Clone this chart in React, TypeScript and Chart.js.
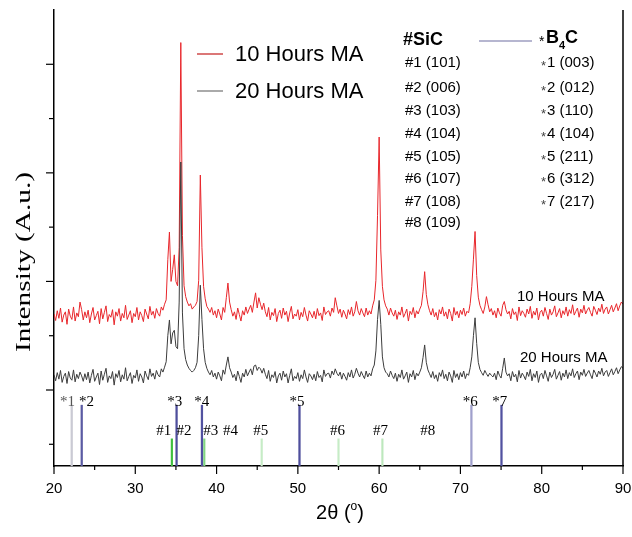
import React, { useEffect, useRef } from 'react';
import { Chart, registerables } from 'chart.js';

Chart.register(...registerables);

// 2θ sampling points (degrees)
const angles = [
  20, 20.2, 20.4, 20.6, 20.8, 21, 21.2, 21.4, 21.6, 21.8,
  22, 22.2, 22.4, 22.6, 22.8, 23, 23.2, 23.4, 23.6, 23.8,
  24, 24.2, 24.4, 24.6, 24.8, 25, 25.2, 25.4, 25.6, 25.8,
  26, 26.2, 26.4, 26.6, 26.8, 27, 27.2, 27.4, 27.6, 27.8,
  28, 28.2, 28.4, 28.6, 28.8, 29, 29.2, 29.4, 29.6, 29.8,
  30, 30.2, 30.4, 30.6, 30.8, 31, 31.2, 31.4, 31.6, 31.8,
  32, 32.2, 32.4, 32.6, 32.8, 33, 33.2, 33.4, 33.6, 33.8,
  34, 34.2, 34.4, 34.6, 34.8, 35, 35.2, 35.4, 35.6, 35.8,
  36, 36.2, 36.4, 36.6, 36.8, 37, 37.2, 37.4, 37.6, 37.8,
  38, 38.2, 38.4, 38.6, 38.8, 39, 39.2, 39.4, 39.6, 39.8,
  40, 40.2, 40.4, 40.6, 40.8, 41, 41.2, 41.4, 41.6, 41.8,
  42, 42.2, 42.4, 42.6, 42.8, 43, 43.2, 43.4, 43.6, 43.8,
  44, 44.2, 44.4, 44.6, 44.8, 45, 45.2, 45.4, 45.6, 45.8,
  46, 46.2, 46.4, 46.6, 46.8, 47, 47.2, 47.4, 47.6, 47.8,
  48, 48.2, 48.4, 48.6, 48.8, 49, 49.2, 49.4, 49.6, 49.8,
  50, 50.2, 50.4, 50.6, 50.8, 51, 51.2, 51.4, 51.6, 51.8,
  52, 52.2, 52.4, 52.6, 52.8, 53, 53.2, 53.4, 53.6, 53.8,
  54, 54.2, 54.4, 54.6, 54.8, 55, 55.2, 55.4, 55.6, 55.8,
  56, 56.2, 56.4, 56.6, 56.8, 57, 57.2, 57.4, 57.6, 57.8,
  58, 58.2, 58.4, 58.6, 58.8, 59, 59.2, 59.4, 59.6, 59.8,
  60, 60.2, 60.4, 60.6, 60.8, 61, 61.2, 61.4, 61.6, 61.8,
  62, 62.2, 62.4, 62.6, 62.8, 63, 63.2, 63.4, 63.6, 63.8,
  64, 64.2, 64.4, 64.6, 64.8, 65, 65.2, 65.4, 65.6, 65.8,
  66, 66.2, 66.4, 66.6, 66.8, 67, 67.2, 67.4, 67.6, 67.8,
  68, 68.2, 68.4, 68.6, 68.8, 69, 69.2, 69.4, 69.6, 69.8,
  70, 70.2, 70.4, 70.6, 70.8, 71, 71.2, 71.4, 71.6, 71.8,
  72, 72.2, 72.4, 72.6, 72.8, 73, 73.2, 73.4, 73.6, 73.8,
  74, 74.2, 74.4, 74.6, 74.8, 75, 75.2, 75.4, 75.6, 75.8,
  76, 76.2, 76.4, 76.6, 76.8, 77, 77.2, 77.4, 77.6, 77.8,
  78, 78.2, 78.4, 78.6, 78.8, 79, 79.2, 79.4, 79.6, 79.8,
  80, 80.2, 80.4, 80.6, 80.8, 81, 81.2, 81.4, 81.6, 81.8,
  82, 82.2, 82.4, 82.6, 82.8, 83, 83.2, 83.4, 83.6, 83.8,
  84, 84.2, 84.4, 84.6, 84.8, 85, 85.2, 85.4, 85.6, 85.8,
  86, 86.2, 86.4, 86.6, 86.8, 87, 87.2, 87.4, 87.6, 87.8,
  88, 88.2, 88.4, 88.6, 88.8, 89, 89.2, 89.4, 89.6, 89.8,
  90,
];

// 10 Hours MA pattern (a.u.)
const ma10h = [
  240, 228, 246, 232, 251, 225, 238, 244, 221, 249,
  236, 230, 253, 227, 242, 235, 262, 248, 229, 244,
  233, 247, 224, 240, 252, 229, 237, 245, 222, 250,
  231, 243, 255, 226, 239, 234, 248, 220, 244, 236,
  250, 227, 241, 233, 256, 230, 238, 246, 224, 241,
  235, 252, 229, 244, 237, 226, 249, 240, 231, 254,
  238, 245, 232, 250, 241, 236, 253, 247, 258, 266,
  340, 391, 300, 322, 349, 300, 292, 362, 740, 385,
  292, 272, 262, 255, 259, 249, 253, 256, 263, 302,
  496, 362, 291, 268, 254, 249, 243, 252, 238, 246,
  233, 249, 240, 229, 252, 243, 270, 297, 262, 248,
  236, 244, 230, 251, 239, 227, 246, 238, 253, 241,
  249, 256, 243, 262, 279, 251, 270, 258, 248, 260,
  244, 235, 252, 229, 243, 237, 250, 226, 241, 247,
  232, 251, 238, 245, 226, 242, 254, 231, 240, 236,
  248, 229, 243, 235, 252, 238, 227, 246, 240, 233,
  245, 231, 250, 237, 242, 228, 253, 239, 244, 246,
  236, 251, 243, 270, 255, 241, 249, 234, 247, 240,
  231, 248, 239, 253, 236, 244, 263, 246, 238, 250,
  242, 235, 251, 238, 246, 240, 255, 266, 302, 421,
  566, 358, 291, 266, 255, 249, 238, 251, 242, 236,
  247, 230, 244, 238, 253, 234, 241, 249, 227, 245,
  239, 252, 233, 246, 240, 249, 256, 281, 318, 276,
  257, 246, 238, 250, 235, 243, 229, 248, 240, 253,
  236, 244, 231, 249, 241, 227, 252, 238, 245, 233,
  247, 239, 251, 236, 245, 242, 259, 291, 341, 392,
  311, 271, 256, 248, 241, 253, 272, 257, 244, 250,
  238, 246, 233, 251, 242, 236, 256, 263, 248, 240,
  245, 231, 250, 239, 244, 228, 253, 237, 246, 241,
  234, 249, 240, 254, 232, 245, 238, 251, 229, 243,
  247, 236, 252, 241, 230, 249, 238, 244, 255, 235,
  242, 250, 233, 246, 239, 253, 236, 248, 241, 257,
  238, 245, 251, 234, 249, 242, 256, 240, 247, 252,
  243, 236, 254, 247, 239, 251, 244, 258, 241, 249,
  253, 240, 248, 256, 244, 251, 259, 246, 255, 262,
  258,
];

// 20 Hours MA pattern (a.u.)
const ma20h = [
  128, 117, 132, 120, 136, 114, 125, 131, 112, 134,
  122, 118, 137, 115, 129, 121, 133, 126, 116, 130,
  119, 133, 113, 127, 138, 116, 124, 131, 110, 135,
  118, 129, 140, 114, 126, 121, 134, 109, 130, 123,
  136, 115, 128, 120, 141, 117, 125, 132, 112, 127,
  122, 137, 116, 130, 124, 113, 135, 126, 119, 139,
  125, 131, 120, 136, 128, 124, 139, 133, 142, 152,
  200, 229, 185, 205, 210, 180, 176, 262, 520, 242,
  176, 156, 146, 140, 136, 133, 136, 141, 151, 200,
  293, 230, 176, 151, 140, 133, 128, 136, 124, 131,
  120, 133, 126, 117, 137, 129, 146, 161, 141, 133,
  123, 129, 117, 135, 125, 114, 131, 124, 138, 126,
  133, 139, 128, 144, 146, 136, 142, 139, 131, 140,
  129, 121, 136, 116, 128, 123, 134, 113, 126, 131,
  118, 135, 124, 130, 113, 127, 139, 117, 125, 121,
  132, 116, 128, 121, 137, 124, 114, 130, 126, 119,
  129, 117, 134, 123, 127, 115, 137, 125, 130, 131,
  122, 135, 128, 139, 131, 126, 133, 120, 131, 125,
  118, 132, 124, 137, 122, 129, 140, 131, 124, 134,
  127, 121, 135, 124, 131, 126, 139, 146, 172, 230,
  265, 221, 161, 141, 133, 130, 124, 135, 127, 121,
  131, 116, 129, 123, 137, 120, 126, 133, 114, 130,
  124, 136, 119, 131, 126, 133, 141, 160, 183, 151,
  137, 130, 123, 134, 121, 128, 116, 132, 125, 137,
  121, 129, 117, 133, 126, 114, 136, 123, 130, 119,
  132, 124, 135, 121, 130, 127, 141, 161, 200, 233,
  186, 151, 138, 132, 127, 136, 130, 125, 131, 127,
  124, 131, 119, 135, 127, 122, 140, 159, 133, 126,
  130, 117, 134, 124, 129, 115, 136, 122, 131, 126,
  119, 133, 125, 138, 117, 130, 123, 135, 114, 128,
  131, 121, 136, 126, 116, 133, 123, 129, 138, 120,
  127, 134, 118, 131, 124, 137, 121, 132, 126, 139,
  123, 130, 135, 119, 133, 127, 138, 125, 131, 136,
  128, 121, 137, 131, 124, 135, 129, 140, 126, 133,
  136, 125, 132, 139, 128, 134, 141, 130, 137, 143,
  140,
];

// Reference stick patterns
const b4cAngles = [22.18, 23.41, 35.08, 38.2, 50.2, 71.35, 75.05];
const b4cColors = ['#cacad4', '#5b5ba3', '#4e4e9c', '#5252a0', '#4e4e9c', '#a0a0cc', '#5252a0'];
const sicAngles = [34.5, 38.49, 45.55, 55.0, 60.4];
const sicColors = ['#3fbf3f', '#80d680', '#c6ecc6', '#c6ecc6', '#bde8bd'];
const stickBase = -40;
const b4cStickTop = 72;
const sicStickTop = 10;

// Stick labels
const b4cLabels = ['*1', '*2', '*3', '*4', '*5', '*6', '*7'];
const b4cLabelAngles = [21.66, 24.0, 34.85, 38.18, 49.89, 71.2, 74.84];
const b4cLabelLevel = 78;
const sicLabels = ['#1', '#2', '#3', '#4', '#5', '#6', '#7', '#8'];
const sicLabelAngles = [33.5, 36.0, 39.29, 41.7, 45.45, 54.88, 60.18, 65.97];
const sicLabelLevel = 25;

// Index table
const sicRows = ['#1 (101)', '#2 (006)', '#3 (103)', '#4 (104)', '#5 (105)', '#6 (107)', '#7 (108)', '#8 (109)'];
const b4cRows = ['1 (003)', '2 (012)', '3 (110)', '4 (104)', '5 (211)', '6 (312)', '7 (217)'];

const xTickValues = [20, 30, 40, 50, 60, 70, 80, 90];
const yTickValues = [0, 100, 200, 300, 400, 500, 600, 700];

const SANS = "'Liberation Sans', Arial, Helvetica, sans-serif";
const SERIF = "'Liberation Serif', 'Times New Roman', serif";
const RED = '#e8262b';
const GRAY = '#3c3c3c';

const decor = {
  id: 'decor',
  afterDraw(chart: any) {
    const { ctx, chartArea } = chart;
    const xs = chart.scales.x;
    const ys = chart.scales.y;
    ctx.save();

    // right frame line
    ctx.strokeStyle = '#000';
    ctx.lineWidth = 1.5;
    ctx.beginPath();
    ctx.moveTo(chartArea.right, chartArea.top);
    ctx.lineTo(chartArea.right, chartArea.bottom);
    ctx.stroke();

    // y tick marks (outside), alternating major/minor
    ctx.lineWidth = 1.2;
    yTickValues.forEach((v) => {
      const y = ys.getPixelForValue(v);
      const len = (v / 100) % 2 === 1 ? 8 : 5;
      ctx.beginPath();
      ctx.moveTo(chartArea.left - len, y);
      ctx.lineTo(chartArea.left, y);
      ctx.stroke();
    });
    // x tick marks
    for (let v = 20; v <= 90; v += 5) {
      const x = xs.getPixelForValue(v);
      const len = v % 10 === 0 ? 8 : 4;
      ctx.beginPath();
      ctx.moveTo(x, chartArea.bottom);
      ctx.lineTo(x, chartArea.bottom + len);
      ctx.stroke();
    }

    // stick labels
    ctx.fillStyle = '#000';
    ctx.font = `15px ${SERIF}`;
    ctx.textAlign = 'center';
    ctx.textBaseline = 'middle';
    b4cLabels.forEach((t, i) => {
      ctx.fillStyle = i === 0 ? '#555' : '#000';
      ctx.fillText(t, xs.getPixelForValue(b4cLabelAngles[i]), ys.getPixelForValue(b4cLabelLevel));
    });
    ctx.fillStyle = '#000';
    sicLabels.forEach((t, i) => {
      ctx.fillText(t, xs.getPixelForValue(sicLabelAngles[i]), ys.getPixelForValue(sicLabelLevel));
    });

    // legend
    ctx.lineWidth = 1.5;
    ctx.strokeStyle = '#cf4a4a';
    ctx.beginPath();
    ctx.moveTo(197, 54);
    ctx.lineTo(223, 54);
    ctx.stroke();
    ctx.strokeStyle = '#8e8e8e';
    ctx.beginPath();
    ctx.moveTo(197, 91);
    ctx.lineTo(223, 91);
    ctx.stroke();
    ctx.textAlign = 'left';
    ctx.font = `22px ${SANS}`;
    ctx.fillText('10 Hours MA', 235, 55);
    ctx.fillText('20 Hours MA', 235, 92);

    // index table
    ctx.font = `bold 18px ${SANS}`;
    ctx.fillText('#SiC', 403, 40);
    const rowY = [63, 88, 111, 134, 157, 179, 202, 223];
    ctx.font = `15px ${SANS}`;
    sicRows.forEach((t, i) => ctx.fillText(t, 405, rowY[i]));
    b4cRows.forEach((t, i) => {
      ctx.font = `13px ${SANS}`;
      ctx.fillStyle = '#444';
      ctx.fillText('*', 541, rowY[i] + 3);
      ctx.fillStyle = '#000';
      ctx.font = `15px ${SANS}`;
      ctx.fillText(t, 547, rowY[i]);
    });
    // B4C header with subscript
    let hx = 539;
    ctx.font = `14px ${SANS}`;
    ctx.fillText('*', hx, 42);
    hx += 7;
    ctx.font = `bold 18px ${SANS}`;
    ctx.fillText('B', hx, 38);
    hx += ctx.measureText('B').width;
    ctx.font = `bold 11px ${SANS}`;
    ctx.fillText('4', hx, 46);
    hx += ctx.measureText('4').width;
    ctx.font = `bold 18px ${SANS}`;
    ctx.fillText('C', hx, 38);
    ctx.strokeStyle = '#6e6ea2';
    ctx.lineWidth = 1.2;
    ctx.beginPath();
    ctx.moveTo(479, 41);
    ctx.lineTo(532, 41);
    ctx.stroke();

    // curve labels
    ctx.font = `15px ${SANS}`;
    ctx.fillText('10 Hours MA', 517, 297);
    ctx.fillText('20 Hours MA', 520, 358);

    // x axis title 2θ (°)
    const a = '2θ (';
    const b = ')';
    ctx.font = `20px ${SANS}`;
    const wa = ctx.measureText(a).width;
    const wb = ctx.measureText(b).width;
    ctx.font = `12px ${SANS}`;
    const ws = ctx.measureText('o').width;
    let tx = 340 - (wa + ws + wb) / 2;
    ctx.textBaseline = 'alphabetic';
    ctx.font = `20px ${SANS}`;
    ctx.fillText(a, tx, 519);
    tx += wa;
    ctx.font = `12px ${SANS}`;
    ctx.fillText('o', tx, 510);
    tx += ws;
    ctx.font = `20px ${SANS}`;
    ctx.fillText(b, tx, 519);

    // y axis title (stretched serif)
    ctx.font = `20px ${SERIF}`;
    const title = 'Intensity (A.u.)';
    const tw = ctx.measureText(title).width;
    ctx.translate(25, 262);
    ctx.rotate(-Math.PI / 2);
    ctx.scale(180 / tw, 1);
    ctx.textAlign = 'center';
    ctx.textBaseline = 'middle';
    ctx.fillText(title, 0, 0);

    ctx.restore();
  },
};

export default function App() {
  const ref = useRef<HTMLCanvasElement>(null);
  useEffect(() => {
    const canvas = ref.current;
    if (!canvas) return;
    const chart = new Chart(canvas, {
      type: 'line',
      data: {
        datasets: [
          {
            label: '20 Hours MA',
            data: angles.map((x, i) => ({ x, y: ma20h[i] })),
            borderColor: GRAY,
            borderWidth: 1,
            pointRadius: 0,
            tension: 0,
            order: 0,
          } as any,
          {
            label: '10 Hours MA',
            data: angles.map((x, i) => ({ x, y: ma10h[i] })),
            borderColor: RED,
            borderWidth: 1,
            pointRadius: 0,
            tension: 0,
            order: 1,
          } as any,
          {
            type: 'bar',
            label: 'B4C',
            data: b4cAngles.map((x) => ({ x, y: [stickBase, b4cStickTop] })),
            backgroundColor: b4cColors,
            barThickness: 1.6,
            grouped: false,
            order: 2,
          } as any,
          {
            type: 'bar',
            label: 'SiC',
            data: sicAngles.map((x) => ({ x, y: [stickBase, sicStickTop] })),
            backgroundColor: sicColors,
            barThickness: 1.5,
            grouped: false,
            order: 3,
          } as any,
        ],
      },
      options: {
        animation: false,
        responsive: false,
        maintainAspectRatio: false,
        layout: { padding: { left: 0, right: 9, top: 10, bottom: 0 } },
        plugins: { legend: { display: false }, tooltip: { enabled: false } },
        scales: {
          x: {
            type: 'linear',
            min: 20,
            max: 90,
            offset: false,
            grid: { display: false, drawTicks: false, offset: false },
            border: { display: true, color: '#000', width: 1.5 },
            ticks: {
              stepSize: 10,
              autoSkip: false,
              maxRotation: 0,
              padding: 14,
              color: '#000',
              font: { family: SANS, size: 15 },
              callback: (v: any) => (xTickValues.includes(Number(v)) ? String(v) : ''),
            },
            afterFit: (s: any) => {
              s.height = 71;
              s.paddingLeft = 0;
              s.paddingRight = 0;
            },
          },
          y: {
            type: 'linear',
            min: -40,
            max: 800,
            grid: { display: false, drawTicks: false },
            border: { display: true, color: '#000', width: 1.5 },
            ticks: { display: false, stepSize: 100 },
            afterFit: (s: any) => {
              s.width = 54;
            },
          },
        },
      } as any,
      plugins: [decor],
    });
    return () => chart.destroy();
  }, []);
  return (
    <div style={{ position: 'fixed', left: 0, top: 0, width: 632, height: 537, background: '#fff' }}>
      <canvas ref={ref} width={632} height={537} style={{ display: 'block' }} />
    </div>
  );
}
